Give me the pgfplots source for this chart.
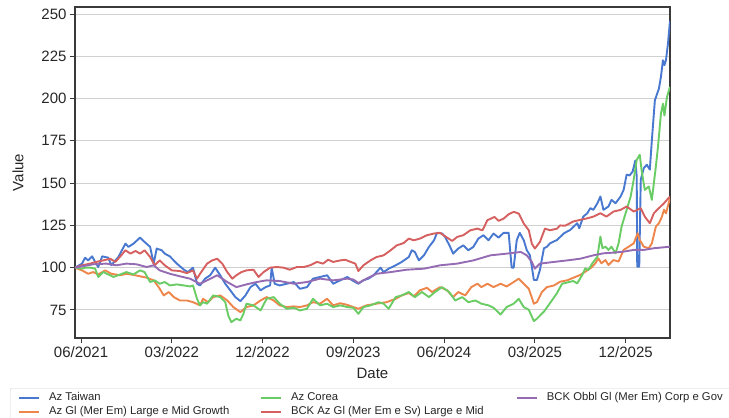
\documentclass[border=0pt]{standalone}
\usepackage{fontspec}
\setmainfont{Liberation Sans}
\usepackage{pgfplots}
\pgfplotsset{compat=1.18}
\definecolor{sbblue}{HTML}{4878D0}
\definecolor{sborange}{HTML}{EE854A}
\definecolor{sbgreen}{HTML}{6ACC64}
\definecolor{sbred}{HTML}{D65F5F}
\definecolor{sbpurple}{HTML}{956CB4}
\definecolor{gridc}{HTML}{D0D0D0}
\definecolor{axc}{HTML}{3A3A3A}
\definecolor{txtc}{HTML}{262626}
\begin{document}
\begin{tikzpicture}
\path[use as bounding box] (-75pt,-80pt) rectangle (654pt,338pt);
\begin{axis}[
  scale only axis, width=595pt, height=331pt,
  at={(0pt,0pt)}, anchor=south west,
  xmin=-0.6, xmax=58.4, ymin=58.4, ymax=254.2,
  xtick={0,9,18,27,36,45,54},
  xticklabels={06/2021,03/2022,12/2022,09/2023,06/2024,03/2025,12/2025},
  ytick={75,100,125,150,175,200,225,250},
  /pgf/number format/assume math mode=true,
  tick label style={font=\fontsize{15}{18}\selectfont, color=txtc},
  label style={font=\fontsize{15}{18}\selectfont, color=txtc},
  xlabel={Date}, ylabel={Value},
  xlabel style={at={(axis description cs:0.5,-0.106)}, anchor=center},
  ylabel style={at={(axis description cs:-0.0958,0.5)}, anchor=center, rotate=0},
  tick align=outside, major tick length=5pt,
  xtick pos=bottom, ytick pos=left,
  tick style={color=axc, line width=1pt},
  axis line style={color=axc, line width=1.1pt},
  ymajorgrids, grid style={color=gridc, line width=0.9pt},
  legend style={at={(-0.1092,-0.1511)}, anchor=north west, draw=gridc, rounded corners=2pt,
    fill=white, font=\fontsize{11.3}{13}\selectfont, text=txtc, inner xsep=8pt, inner ysep=4pt,
    row sep=3pt, column sep=0pt, nodes={inner sep=0pt, text height=8.5pt, text depth=2.5pt}},
  legend columns=3,
  legend image code/.code={\draw[#1] (0pt,0pt) -- (20pt,0pt);},
  every axis plot/.append style={line width=1.9pt, line join=round},
]
% Az Taiwan
\addplot[sbblue, forget plot] table {
-0.6 100
0.1 102.4
0.4 105.9
0.7 104.3
1.1 106.7
1.4 103.4
1.7 100.4
2.1 106.7
2.7 105.9
3.0 101.5
3.7 106.3
4.4 114.2
4.7 112.3
5.2 114.2
5.85 117.8
6.3 115.2
6.85 112.3
7.2 102.4
7.5 111.3
8.0 110.3
8.3 108.3
8.8 106.7
9.5 102.4
10.2 98.8
10.6 97.4
11.1 100
11.5 90.5
11.8 89.5
12.3 93.5
12.8 95.5
13.3 100
13.8 95.5
14.3 90.5
14.8 86.6
15.3 82.6
15.8 80.2
16.3 83.6
16.8 88.5
17.3 90.5
17.8 86.6
18.3 88.5
18.75 89.5
18.9 100
19.2 90.5
19.7 89.5
20.4 90.5
21.1 91.5
21.7 87.5
22.4 88.5
23.0 93.5
23.7 94.5
24.4 95.5
25.0 90.5
25.7 92.5
26.4 94.5
27.0 92.1
27.5 90.5
28.0 92.5
28.5 93.5
29.0 95.5
29.7 100
30.0 97.4
30.5 99.4
31.2 101.4
31.8 103.4
32.5 106.3
32.8 110.3
33.1 109.3
33.5 104.3
34.0 107.3
34.5 112.3
35.0 116.2
35.3 120.6
35.8 120.2
36.1 118.2
36.6 112.3
36.9 108.3
37.4 111.3
37.9 113.2
38.4 110.3
38.9 112.3
39.4 117.2
39.9 119.2
40.4 116.2
40.9 120.2
41.4 117.8
41.9 120.6
42.4 120.6
42.7 100
42.9 100
43.2 116.2
43.5 120.6
43.9 116.2
44.2 110.3
44.5 107.5
44.7 100.6
44.9 92.7
45.2 92.7
45.5 98.6
45.9 111.5
46.2 112.4
46.5 114.4
47.2 116.4
47.9 120.4
48.5 122.3
49.2 126.3
49.4 123.3
49.8 130.2
50.2 132.2
50.5 135.2
50.8 134.2
51.2 138.1
51.5 142.1
51.8 134.2
52.3 136.2
52.6 140.1
53.0 138.1
53.5 142.1
53.8 146.0
54.1 155
54.4 154.6
54.7 156.9
54.96 163.4
55.1 154
55.15 100.6
55.35 100.6
55.5 152
55.8 158.9
56.1 160.9
56.4 158
56.6 175.3
56.9 199
57.3 205.9
57.5 212.8
57.7 222.7
57.85 219.8
58.0 222.7
58.2 232.6
58.4 246
};
% Az Gl (Mer Em) Large e Mid Growth
\addplot[sborange, forget plot] table {
-0.6 100
0.1 98.4
0.7 96.4
1.2 97.4
1.7 96
2.4 98.4
3.0 96.4
3.9 95.5
4.5 96.4
5.4 95.5
5.85 94.9
6.5 94.1
7.2 92.5
7.7 88.5
8.2 83.6
8.7 85.6
9.2 82.6
9.8 80.6
10.5 80.6
11.1 79.6
11.8 77.7
12.1 81.6
12.6 79.6
13.1 82.6
13.8 83.6
14.5 80.6
15.1 76.7
15.8 73.7
16.4 76.7
17.1 77.7
17.8 80.6
18.4 82.6
19.1 80.6
19.7 77.7
20.4 76.7
21.1 77.1
21.7 76.7
22.4 77.7
23.0 79.6
23.7 78.7
24.4 81.6
25.0 77.7
25.7 79
26.4 78
27.0 76.7
27.5 75.7
28.3 77.7
29.3 78.7
30.3 79.6
31.2 81.6
31.8 83.6
32.5 85
33.0 83
33.6 86.6
34.3 88.1
34.8 85.6
35.6 88.5
36.3 86.6
36.9 82.6
37.4 85.6
38.1 83.6
38.7 88.5
39.3 90.5
39.7 88.5
40.3 90.5
40.9 88.5
41.6 90.5
42.2 88.9
42.9 91.5
43.4 93.5
43.9 90.5
44.4 87.5
44.9 78.7
45.2 79.6
45.7 85.6
46.2 88.5
46.9 89.5
47.5 91.7
48.2 92.5
48.8 94
49.5 95.7
50.0 97.6
50.5 99.6
51.0 102.6
51.3 105.5
51.6 102.6
52.0 104.5
52.3 101.6
52.8 104.5
53.3 103.6
53.8 110.5
54.3 112.4
54.8 114.4
55.2 120.4
55.4 116.4
55.8 112.4
56.3 111.5
56.6 114.4
57.0 124.3
57.3 126.3
57.6 130.2
57.8 134.2
58.0 132.2
58.4 141.1
};
% Az Corea
\addplot[sbgreen, forget plot] table {
-0.6 100
0.1 99.4
0.4 100
0.9 100
1.4 99.4
1.7 94.5
2.2 97.4
2.7 96
3.2 94.5
3.9 96
4.5 97.4
5.2 96
5.85 98.4
6.3 97.4
6.85 91.5
7.3 92.5
7.8 90.5
8.3 91.5
8.8 89.5
9.5 90.1
10.2 89.5
10.8 88.9
11.1 89.5
11.5 81.6
11.8 77.7
12.1 79.6
12.5 78.7
13.1 83.6
13.8 82.6
14.3 79.6
14.6 71.7
14.9 67.8
15.4 69.8
15.8 68.8
16.1 72.7
16.4 78.7
17.1 77.7
17.8 74.7
18.4 81.6
19.1 82.6
19.7 78.7
20.4 75.7
21.1 76.3
21.7 74.7
22.4 75.7
23.0 81.6
23.7 77.7
24.4 78.7
25.0 76.7
25.7 77.7
26.4 76.7
27.0 76.3
27.5 72.7
28.0 76.7
28.7 77.7
29.5 79.6
30.0 78.7
30.5 75.7
31.2 82.6
31.8 83.6
32.5 85.6
33.1 82.6
33.8 85.6
34.5 82.6
35.1 85.6
35.8 88.5
36.5 85.6
37.1 80.6
37.8 82.6
38.4 79.6
39.1 80.6
39.7 78.7
40.4 77.7
40.9 76.3
41.6 72.3
42.2 76.7
42.9 78.7
43.4 81.6
43.9 76.7
44.4 75.1
44.9 68.4
45.2 69.8
45.9 74
46.5 79
47.2 85
47.7 90.5
48.2 91.2
48.8 92.1
49.2 90.7
49.7 95.7
50.0 99.6
50.3 98.6
50.7 102.6
51.2 106.5
51.5 118.4
51.7 111.5
52.0 112.4
52.3 110.5
52.6 112.4
53.0 108.5
53.3 114.4
53.6 124.3
54.1 134.2
54.5 142.1
54.8 152
55.1 163.8
55.4 166.8
55.6 156.9
55.9 146
56.3 148
56.6 140.1
57.0 159.9
57.2 171
57.5 191
57.7 197
57.85 190
58.1 201
58.4 207
};
% BCK Az Gl (Mer Em e Sv) Large e Mid
\addplot[sbred, forget plot] table {
-0.6 100
0.1 101.4
0.9 102.4
1.5 103.4
2.2 104.3
2.9 105.3
3.4 103.4
3.9 106.7
4.4 110.3
4.9 108.3
5.4 109.9
5.85 108.3
6.3 110.3
6.85 106.3
7.3 101.4
7.8 104.3
8.3 101.4
9.0 98.4
9.8 98
10.5 96.8
11.1 98.4
11.5 93.5
11.8 96.4
12.5 102.4
13.0 104.3
13.5 105.3
14.0 102.4
14.5 97.4
15.0 93.5
15.4 95.5
15.9 97.4
16.4 98.4
17.1 98.8
17.6 94.5
18.1 97.4
18.75 100
19.4 100.4
20.1 100
20.7 98.8
21.4 100.4
22.1 100.4
22.7 101.4
23.4 103.4
24.0 102.4
24.5 104.7
25.0 103.4
25.7 104.3
26.2 104.7
26.7 103.5
27.2 102.4
27.5 98
28.0 101.4
28.7 104.3
29.3 106.3
30.0 107.3
30.7 110.3
31.3 113.2
32.0 114.6
32.5 117.2
33.0 116.2
33.6 117.2
34.3 119.2
35.0 120.2
35.6 120.6
36.3 117.8
36.8 115.8
37.3 118.2
37.9 119.2
38.6 122.1
39.3 123.1
39.8 122.1
40.3 128.1
41.0 130
41.4 127.7
41.9 129
42.4 131.6
42.9 133
43.4 132
43.9 126.1
44.4 122.1
44.7 114.2
45.0 111.3
45.5 115.2
46.0 123.1
46.5 122.1
47.2 123.1
47.5 125
48.0 124.8
48.8 127.3
49.5 128.3
50.2 129.2
50.8 130.2
51.5 132.2
52.1 130.2
52.8 133.2
53.5 134.2
54.1 136.2
54.8 133.2
55.5 135.2
55.9 130.2
56.4 126.3
56.8 132.2
57.3 135.2
57.8 138.1
58.4 142.1
};
% BCK Obbl Gl (Mer Em) Corp e Gov
\addplot[sbpurple, forget plot] table {
-0.6 100
0.1 100.8
1.2 102
2.5 102.4
3.5 101.4
4.5 102.4
5.5 102
6.5 100.4
7.2 101.4
7.8 98.4
8.8 96.4
9.8 94.9
10.8 93.5
11.8 90.5
12.5 92.5
13.5 95.5
14.5 91.5
15.4 88.5
16.4 90.1
17.4 91.5
18.4 92.5
19.7 92.1
21.1 90.5
22.4 91.5
23.7 93.5
25.0 92.5
26.4 93.5
27.0 93
27.5 90.9
28.3 93.5
29.3 96.4
30.7 97.4
32.3 98.8
34.0 99.4
35.6 101.4
37.3 102.4
38.9 104.3
40.6 107.3
42.2 108.3
43.6 109.3
44.2 107.3
44.7 103.4
45.0 99.4
45.5 102.4
46.9 103.4
48.2 104.3
49.5 105.3
50.8 107.3
51.8 108.5
52.8 108.9
53.8 109.5
54.8 110.5
55.8 110.5
56.8 111.5
58.4 112.4
};
\addlegendimage{sbblue, line width=1.9pt}
\addlegendentry{\makebox[220pt][l]{\hspace{9pt}Az Taiwan}}
\addlegendimage{sbgreen, line width=1.9pt}
\addlegendentry{\makebox[234pt][l]{\hspace{9pt}Az Corea}}
\addlegendimage{sbpurple, line width=1.9pt}
\addlegendentry{\hspace{9pt}BCK Obbl Gl (Mer Em) Corp e Gov}
\addlegendimage{sborange, line width=1.9pt}
\addlegendentry{\makebox[220pt][l]{\hspace{9pt}Az Gl (Mer Em) Large e Mid Growth}}
\addlegendimage{sbred, line width=1.9pt}
\addlegendentry{\makebox[234pt][l]{\hspace{9pt}BCK Az Gl (Mer Em e Sv) Large e Mid}}
\end{axis}
\end{tikzpicture}
\end{document}
